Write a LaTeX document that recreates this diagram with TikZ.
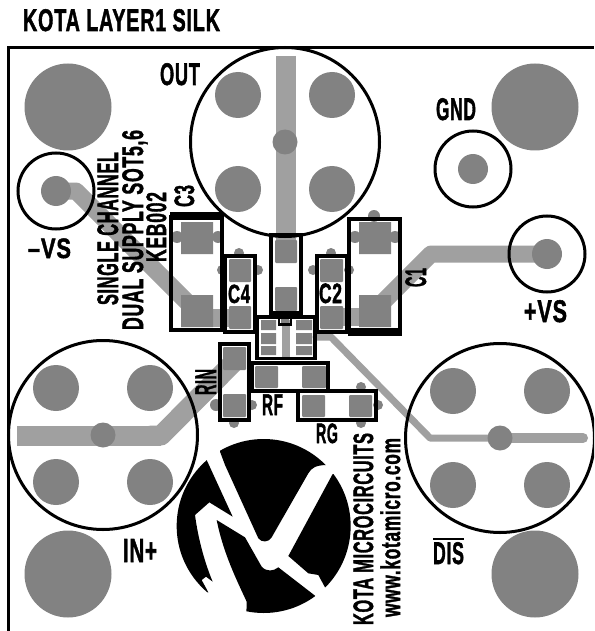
\documentclass[tikz,border=0pt]{standalone}
\usepackage{fontspec}
\usepackage{graphicx}
\newfontfamily\silk[FakeBold=1.8,LetterSpace=4]{Liberation Sans Bold}
\definecolor{padgray}{HTML}{828282}
\definecolor{tracegray}{HTML}{A0A0A0}
\tikzset{
  pad/.style={fill=padgray,draw=none},
  smdpad/.style={fill=padgray,draw=none,rounded corners=1pt},
  trace/.style={draw=tracegray,line join=round,line cap=round},
  ring/.style={draw=black,line width=3pt},
  partbox/.style={draw=black,line width=3.2pt,line join=miter},
  bar/.style={fill=black,draw=none},
  txt/.style={inner sep=0pt,outer sep=0pt,anchor=base,text=black},
  logoblack/.style={fill=black,draw=none}
}
% name, rotation, base-centre x, base-centre y, length, height, text
\newcommand{\silktext}[7]{\node[txt,rotate=#2] (#1) at (#3,#4) {\resizebox{#5pt}{\dimexpr#6pt*115/100\relax}{\silk #7}};}
\newcommand{\fourpads}[2]{%
  \fill[pad] (#1-47,#2-47) circle (23) (#1+47,#2-47) circle (23)
             (#1-47,#2+47) circle (23) (#1+47,#2+47) circle (23);}
\begin{document}
\begin{tikzpicture}[x=1pt,y=-1pt,every node/.style={}]
\useasboundingbox (0,0) rectangle (594,631);
\clip (0,0) rectangle (594,631);
\fill[white] (0,0) rectangle (594,631);

% traces
\draw[trace,line width=20pt,line cap=butt] (285.5,56) -- (285.5,250);
\draw[trace,line width=20pt,line cap=butt] (17,435.5) -- (161,435.5);
\draw[trace,line width=20pt] (151,435.5) -- (161,435.5) -- (236,360);
\draw[trace,line width=10pt] (500,438) -- (583,438);
\draw[trace,line width=7pt] (316,337) -- (331,337) -- (430,438) -- (500,438);
\draw[trace,line width=17pt] (56,191) -- (76,191) -- (197,312);
\draw[trace,line width=18pt,line cap=butt] (197,318) -- (240,318);
\draw[trace,line width=17pt] (547,254) -- (431,254) -- (374,311);
\draw[trace,line width=18pt,line cap=butt] (375,317) -- (333,317);
\draw[trace,line width=8pt,line cap=butt] (286,320) -- (286,358);

% large mounting pads
\fill[pad] (68,107) circle (43.5) (535,107) circle (43.5)
           (68,574) circle (43.5) (535,574) circle (43.5);

% connector footprints
\fourpads{285}{142}
\fourpads{103}{435}
\fourpads{500}{438}
\fill[pad] (285,142) circle (12.5) (103,435) circle (12.5) (500,438) circle (12.5);
\fill[pad] (56,191) circle (15) (473,169) circle (15) (547,254) circle (15);
\draw[ring] (285,142) circle (94.5);
\draw[ring] (103,435) circle (94.5);
\draw[ring] (500,438) circle (94.5);
\draw[ring] (56,191) circle (38);
\draw[ring] (473,169) circle (38);
\draw[ring] (547,254) circle (38);

% via nubs
\fill[pad] (177,237) circle (6) (218,237) circle (6)
           (374,216) circle (6) (355,237) circle (6) (395,237) circle (6)
           (239,253) circle (5) (222,270) circle (5) (258,270) circle (5)
           (331,253) circle (5) (313,270) circle (5) (349,270) circle (5)
           (216,405) circle (6) (234,423) circle (5) (252,405) circle (5)
           (361,387) circle (5) (378,405) circle (5) (361,423) circle (5);

% SMD pads
\fill[pad] (181,222) rectangle (213,254) (181,295) rectangle (213,327);
\fill[pad] (359,222) rectangle (391,254) (359,295) rectangle (391,327);
\fill[smdpad] (229,259) rectangle (251,282);
\fill[smdpad] (229,306) rectangle (251,329);
\fill[smdpad] (320,259) rectangle (343,282);
\fill[smdpad] (320,306) rectangle (343,329);
\fill[smdpad] (275,240) rectangle (297,263);
\fill[smdpad] (275,287) rectangle (297,311);
\fill[smdpad] (223,347) rectangle (246,370);
\fill[smdpad] (223,394) rectangle (246,417);
\fill[smdpad] (255,366) rectangle (278,388);
\fill[smdpad] (302,366) rectangle (326,388);
\fill[smdpad] (302,395) rectangle (325,417);
\fill[smdpad] (349,395) rectangle (372,417);
\fill[pad] (261,320) rectangle (276,330) (261,333) rectangle (276,344) (261,346) rectangle (276,355);
\fill[pad] (296,320) rectangle (312,330) (296,333) rectangle (312,344) (296,346) rectangle (312,355);
\fill[pad] (281,319) rectangle (289,323);

% board frame
\draw[black,line width=3pt] (8.5,631) -- (8.5,47.5) -- (594,47.5);

% component outlines
\draw[partbox] (171,217) rectangle (222,330);
\fill[bar] (169.5,212) rectangle (223.5,220);
\draw[partbox] (349,219) rectangle (400,331);
\fill[bar] (347.5,328) rectangle (401.5,336);
\draw[partbox] (225,256) rectangle (255,332);
\draw[partbox] (317,256) rectangle (347,332);
\draw[partbox] (271,235) rectangle (301,313);
\draw[partbox] (257,317) rectangle (315,358.5);
\draw[black,line width=2.5pt] (279,317) rectangle (291,324.5);
\draw[partbox] (220,344) rectangle (249,420);
\draw[partbox] (252,363) rectangle (328,391);
\draw[partbox] (298,391) rectangle (376,420);

% logo
\begin{scope}[shift={(170,430)},x=0.33333pt,y=-0.33333pt]
\clip (281,288) circle (261);
\fill[logoblack] (150,65) -- (165,105) -- (265,325) .. controls (275,338) and (295,338) .. (305,322)
  -- (415,130) .. controls (425,112) and (440,106) .. (468,105) -- (468,0) -- (150,0) -- cycle;
\fill[logoblack] (488,132) -- (355,378) -- (415,430) -- (445,435) -- (465,472) -- (600,472) -- (600,132) -- cycle;
\fill[logoblack] (435,497) -- (325,412) .. controls (310,424) and (290,426) .. (275,410)
  -- (225,322) -- (140,270) .. controls (160,370) and (200,450) .. (230,515) -- (228,600) -- (435,600) -- cycle;
\fill[logoblack] (110,90) -- (188,260) -- (118,217) -- (75,255)
  .. controls (85,330) and (105,400) .. (128,455) -- (108,440) -- (95,450) -- (115,487) -- (0,487) -- (0,90) -- cycle;
\end{scope}

% labels
\silktext{title}{0}{121.5}{31}{197}{19}{KOTA LAYER1 SILK}
\silktext{out}{0}{180}{85}{40}{19}{OUT}
\silktext{gnd}{0}{456}{120}{40}{19}{GND}
\silktext{minusvs}{0}{49.5}{258}{43}{17}{–VS}
\silktext{plusvs}{0}{545.5}{322}{43}{19}{+VS}
\silktext{inplus}{0}{140}{562}{34}{20}{IN+}
\silktext{dis}{0}{448.5}{564}{31}{19}{DIS}
\draw[black,line width=1.6pt] ([yshift=3pt]dis.north west) -- ([yshift=3pt]dis.north east);
\silktext{cthree}{90}{194}{196}{22}{17}{C3}
\silktext{cone}{90}{426}{277.5}{19}{18}{C1}
\silktext{cfour}{0}{239}{303}{22}{16}{C4}
\silktext{ctwo}{0}{330.5}{303}{23}{17}{C2}
\silktext{rin}{90}{216}{382}{26}{18}{RIN}
\silktext{rf}{0}{272.5}{415}{21}{18}{RF}
\silktext{rg}{0}{327}{443}{22}{17}{RG}
\silktext{single}{90}{118}{228.5}{153}{18}{SINGLE CHANNEL}
\silktext{dual}{90}{143}{230}{200}{18}{DUAL SUPPLY SOT5,6}
\silktext{keb}{90}{166}{227}{70}{17}{KEB002}
\silktext{kota}{90}{373}{529}{192}{17}{KOTA MICROCIRCUITS}
\silktext{www}{90}{400}{527.5}{179}{17}{www.kotamicro.com}
\end{tikzpicture}
\end{document}
